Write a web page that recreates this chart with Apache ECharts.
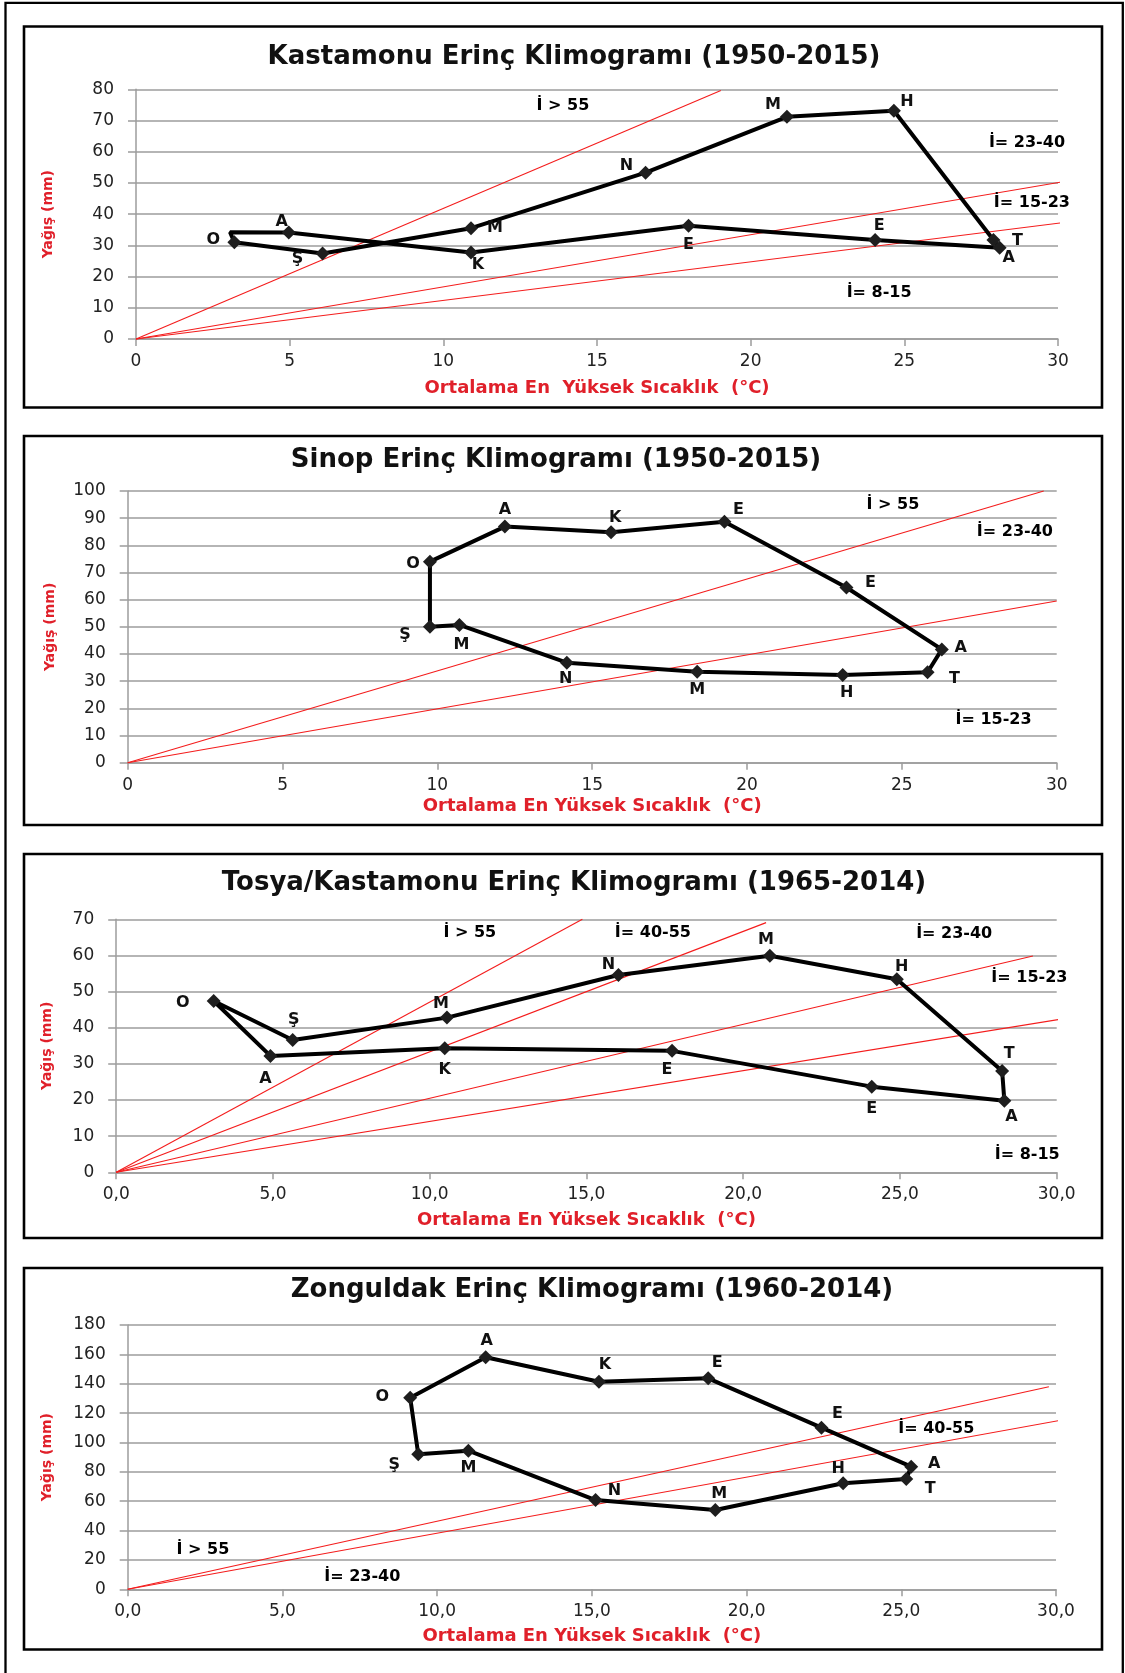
<!DOCTYPE html>
<html>
<head>
<meta charset="utf-8">
<title>Erinç Klimogramları</title>
<script src="https://cdn.jsdelivr.net/npm/echarts@6/dist/echarts.min.js"></script>
<style>
  html, body { margin: 0; padding: 0; background: #ffffff; }
  #chart { width: 1125px; height: 1673px; }
</style>
</head>
<body>
<div id="chart"></div>
<script>
// Month initials, January to December
const monthLetters = ['O', 'Ş', 'M', 'N', 'M', 'H', 'T', 'A', 'E', 'E', 'K', 'A'];

// Tick labels
const xTicksPlain = ['0', '5', '10', '15', '20', '25', '30'];
const xTicksComma = ['0,0', '5,0', '10,0', '15,0', '20,0', '25,0', '30,0'];
const yTicks80 = ['0', '10', '20', '30', '40', '50', '60', '70', '80'];
const yTicks100 = ['0', '10', '20', '30', '40', '50', '60', '70', '80', '90', '100'];
const yTicks70 = ['0', '10', '20', '30', '40', '50', '60', '70'];
const yTicks180 = ['0', '20', '40', '60', '80', '100', '120', '140', '160', '180'];

// Kastamonu (1950-2015): mean maximum temperature (°C) and precipitation (mm)
const kastamonuTemp = [3.2, 6.07, 10.9, 16.58, 21.18, 24.66, 27.9, 28.1, 24.05, 17.98, 10.9, 4.97];
const kastamonuRain = [31.0, 27.4, 35.5, 53.3, 71.2, 73.1, 31.7, 29.2, 31.7, 36.3, 27.7, 34.1];
const kastamonuLoopEnd = [3.06, 34.2];

// Sinop (1950-2015)
const sinopTemp = [9.76, 9.76, 10.71, 14.18, 18.39, 23.09, 25.83, 26.29, 23.21, 19.27, 15.61, 12.18];
const sinopRain = [74.0, 50.0, 50.7, 36.8, 33.5, 32.3, 33.3, 41.7, 64.5, 88.7, 84.8, 86.9];

// Tosya/Kastamonu (1965-2014)
const tosyaTemp = [3.11, 5.63, 10.55, 16.02, 20.85, 24.9, 28.26, 28.33, 24.1, 17.73, 10.48, 4.92];
const tosyaRain = [47.4, 36.6, 42.8, 54.6, 59.9, 53.4, 28.0, 19.8, 23.7, 33.6, 34.3, 32.2];

// Zonguldak (1960-2014)
const zonguldakTemp = [9.13, 9.39, 11.01, 15.12, 18.99, 23.12, 25.16, 25.32, 22.42, 18.76, 15.23, 11.57];
const zonguldakRain = [130.5, 91.9, 94.4, 60.8, 54.0, 72.2, 75.1, 83.5, 110.1, 143.7, 141.4, 158.0];

// Erinç index boundary lines, drawn from the origin to these end points
const kastamonuRatioEnds = [[19.03, 79.6], [30.82, 51.5], [31.1, 38.45]];
const sinopRatioEnds = [[29.58, 100], [30.0, 59.5]];
const tosyaRatioEnds = [[14.87, 70], [20.73, 69.08], [29.24, 59.85], [30.16, 42.42]];
const zonguldakRatioEnds = [[29.77, 138.0], [30.07, 114.85]];

// Index class names and where they sit (°C, mm)
const kastamonuClassNames = ['İ > 55', 'İ= 23-40', 'İ= 15-23', 'İ= 8-15'];
const kastamonuClassAt = [[13.89, 74.65], [28.99, 62.8], [29.15, 43.6], [24.18, 14.7]];
const sinopClassNames = ['İ > 55', 'İ= 23-40', 'İ= 15-23'];
const sinopClassAt = [[24.71, 94.8], [28.65, 85.0], [27.96, 15.7]];
const tosyaClassNames = ['İ > 55', 'İ= 40-55', 'İ= 23-40', 'İ= 15-23', 'İ= 8-15'];
const tosyaClassAt = [[11.28, 66.3], [17.12, 66.3], [26.73, 65.9], [29.13, 53.7], [29.06, 4.8]];
const zonguldakClassNames = ['İ > 55', 'İ= 23-40', 'İ= 40-55'];
const zonguldakClassAt = [[2.43, 26.8], [7.58, 8.2], [26.13, 109.6]];

// Month label offsets from each marker (px)
const kastamonuLabelOffsets = [[-21, -2], [-25, 5], [24, 0], [-19, -7], [-14, -12], [13, -9], [24, 1], [9, 10], [4, -14], [0, 19], [7, 12], [-7, -11]];
const sinopLabelOffsets = [[-17, 2], [-25, 8], [2, 20], [-1, 16], [0, 18], [4, 18], [27, 7], [19, -2], [24, -5], [14, -12], [4, -14], [0, -17]];
const tosyaLabelOffsets = [[-31, 2], [1, -20], [-6, -14], [-10, -10], [-4, -16], [5, -12], [7, -17], [7, 16], [0, 22], [-5, 19], [0, 22], [-5, 23]];
const zonguldakLabelOffsets = [[-28, -1], [-24, 10], [0, 17], [19, -9], [4, -16], [-5, -14], [24, 10], [23, -3], [16, -14], [9, -15], [6, -17], [1, -16]];

const FONT = '"DejaVu Sans", Verdana, sans-serif';
const RED = '#e0202a';
const GRID_GRAY = '#9c9c9c';

const panels = [
  {
    title: 'Kastamonu Erinç Klimogramı (1950-2015)', titleAt: [574, 57],
    box: [24, 26.5, 1078, 381], grid: { left: 136, top: 89.3, width: 922, height: 249.7 },
    temp: kastamonuTemp, rain: kastamonuRain, loopEnd: kastamonuLoopEnd,
    xTicks: xTicksPlain, yTicks: yTicks80, yStep: 10,
    ratioEnds: kastamonuRatioEnds, classNames: kastamonuClassNames, classAt: kastamonuClassAt,
    offsets: kastamonuLabelOffsets,
    xName: 'Ortalama En  Yüksek Sıcaklık  (°C)', xNameGap: 40, yNameGap: 81
  },
  {
    title: 'Sinop Erinç Klimogramı (1950-2015)', titleAt: [556, 460],
    box: [24, 436, 1078, 389], grid: { left: 127.7, top: 491, width: 929, height: 271.7 },
    temp: sinopTemp, rain: sinopRain, loopEnd: null,
    xTicks: xTicksPlain, yTicks: yTicks100, yStep: 10,
    ratioEnds: sinopRatioEnds, classNames: sinopClassNames, classAt: sinopClassAt,
    offsets: sinopLabelOffsets,
    xName: 'Ortalama En Yüksek Sıcaklık  (°C)', xNameGap: 35, yNameGap: 70
  },
  {
    title: 'Tosya/Kastamonu Erinç Klimogramı (1965-2014)', titleAt: [574, 883],
    box: [24, 854, 1078, 384], grid: { left: 116.2, top: 919.3, width: 940.5, height: 253 },
    temp: tosyaTemp, rain: tosyaRain, loopEnd: null,
    xTicks: xTicksComma, yTicks: yTicks70, yStep: 10,
    ratioEnds: tosyaRatioEnds, classNames: tosyaClassNames, classAt: tosyaClassAt,
    offsets: tosyaLabelOffsets,
    xName: 'Ortalama En Yüksek Sıcaklık  (°C)', xNameGap: 39, yNameGap: 62
  },
  {
    title: 'Zonguldak Erinç Klimogramı (1960-2014)', titleAt: [592, 1290],
    box: [24, 1268, 1078, 381.5], grid: { left: 127.7, top: 1325, width: 928.3, height: 264.3 },
    temp: zonguldakTemp, rain: zonguldakRain, loopEnd: null,
    xTicks: xTicksComma, yTicks: yTicks180, yStep: 20,
    ratioEnds: zonguldakRatioEnds, classNames: zonguldakClassNames, classAt: zonguldakClassAt,
    offsets: zonguldakLabelOffsets,
    xName: 'Ortalama En Yüksek Sıcaklık  (°C)', xNameGap: 38, yNameGap: 73
  }
];

const X_STEP = 5;

const option = {
  animation: false,
  backgroundColor: '#ffffff',
  title: [], grid: [], xAxis: [], yAxis: [], series: [],
  graphic: [
    // page frame
    { type: 'rect', shape: { x: 5.5, y: 2.8, width: 1117.3, height: 1700 },
      style: { fill: 'none', stroke: '#000', lineWidth: 2.3 }, silent: true }
  ]
};

panels.forEach((p, i) => {
  option.graphic.push({
    type: 'rect',
    shape: { x: p.box[0], y: p.box[1], width: p.box[2], height: p.box[3] },
    style: { fill: 'none', stroke: '#000', lineWidth: 2.6 }, silent: true
  });

  option.title.push({
    text: p.title, left: p.titleAt[0], top: p.titleAt[1], padding: 0,
    textAlign: 'center', textVerticalAlign: 'middle',
    textStyle: { fontFamily: FONT, fontWeight: 'bold', fontSize: 26, color: '#111' }
  });

  option.grid.push(Object.assign({ containLabel: false }, p.grid));

  option.xAxis.push({
    type: 'value', gridIndex: i, min: 0, max: (p.xTicks.length - 1) * X_STEP, interval: X_STEP,
    name: p.xName, nameLocation: 'middle', nameGap: p.xNameGap,
    nameTextStyle: { fontFamily: FONT, fontWeight: 'bold', fontSize: 18, color: RED },
    axisLine: { show: true, lineStyle: { color: GRID_GRAY, width: 1.5 } },
    axisTick: { show: true, length: 7, lineStyle: { color: GRID_GRAY, width: 1.5 } },
    splitLine: { show: false },
    axisLabel: {
      margin: 14, fontFamily: FONT, fontSize: 17, color: '#222',
      formatter: v => p.xTicks[Math.round(v / X_STEP)]
    }
  });

  option.yAxis.push({
    type: 'value', gridIndex: i, min: 0, max: (p.yTicks.length - 1) * p.yStep, interval: p.yStep,
    name: 'Yağış (mm)', nameLocation: 'middle', nameGap: p.yNameGap, nameRotate: 90,
    nameTextStyle: { fontFamily: FONT, fontWeight: 'bold', fontSize: 14, color: RED },
    axisLine: { show: true, lineStyle: { color: GRID_GRAY, width: 1.5 } },
    axisTick: { show: true, length: 8, lineStyle: { color: GRID_GRAY, width: 1.5 } },
    splitLine: { show: true, lineStyle: { color: GRID_GRAY, width: 1.5 } },
    axisLabel: {
      margin: 22, fontFamily: FONT, fontSize: 17, color: '#222',
      formatter: v => p.yTicks[Math.round(v / p.yStep)]
    }
  });

  // index boundary lines
  p.ratioEnds.forEach(end => {
    option.series.push({
      type: 'line', xAxisIndex: i, yAxisIndex: i, clip: false, silent: true,
      symbol: 'none', z: 3,
      lineStyle: { color: '#f41c1c', width: 1.1 },
      data: [[0, 0], end]
    });
  });

  // index class names
  option.series.push({
    type: 'scatter', xAxisIndex: i, yAxisIndex: i, silent: true, z: 4,
    symbolSize: 1, itemStyle: { color: 'rgba(0,0,0,0)', opacity: 1 },
    label: {
      show: true, position: 'inside', opacity: 1,
      formatter: q => p.classNames[q.dataIndex],
      fontFamily: FONT, fontWeight: 'bold', fontSize: 16, color: '#000'
    },
    data: p.classAt
  });

  // monthly climogram loop
  const pts = p.temp.map((t, k) => ({
    value: [t, p.rain[k]],
    label: { offset: p.offsets[k] }
  }));
  if (p.loopEnd) {
    pts.push({ value: p.loopEnd, symbol: 'none', label: { show: false } });
  }
  pts.push({ value: [p.temp[0], p.rain[0]], symbol: 'none', label: { show: false } });

  option.series.push({
    type: 'line', xAxisIndex: i, yAxisIndex: i, clip: false, silent: true, z: 5,
    showSymbol: true, symbol: 'diamond', symbolSize: 14,
    itemStyle: { color: '#1e1e1e' },
    lineStyle: { color: '#000', width: 4 },
    label: {
      show: true, position: 'inside',
      formatter: q => monthLetters[q.dataIndex] || '',
      fontFamily: FONT, fontWeight: 'bold', fontSize: 16, color: '#111'
    },
    data: pts
  });
});

const chart = echarts.init(document.getElementById('chart'), null, { width: 1125, height: 1673 });
chart.setOption(option);
</script>
</body>
</html>
